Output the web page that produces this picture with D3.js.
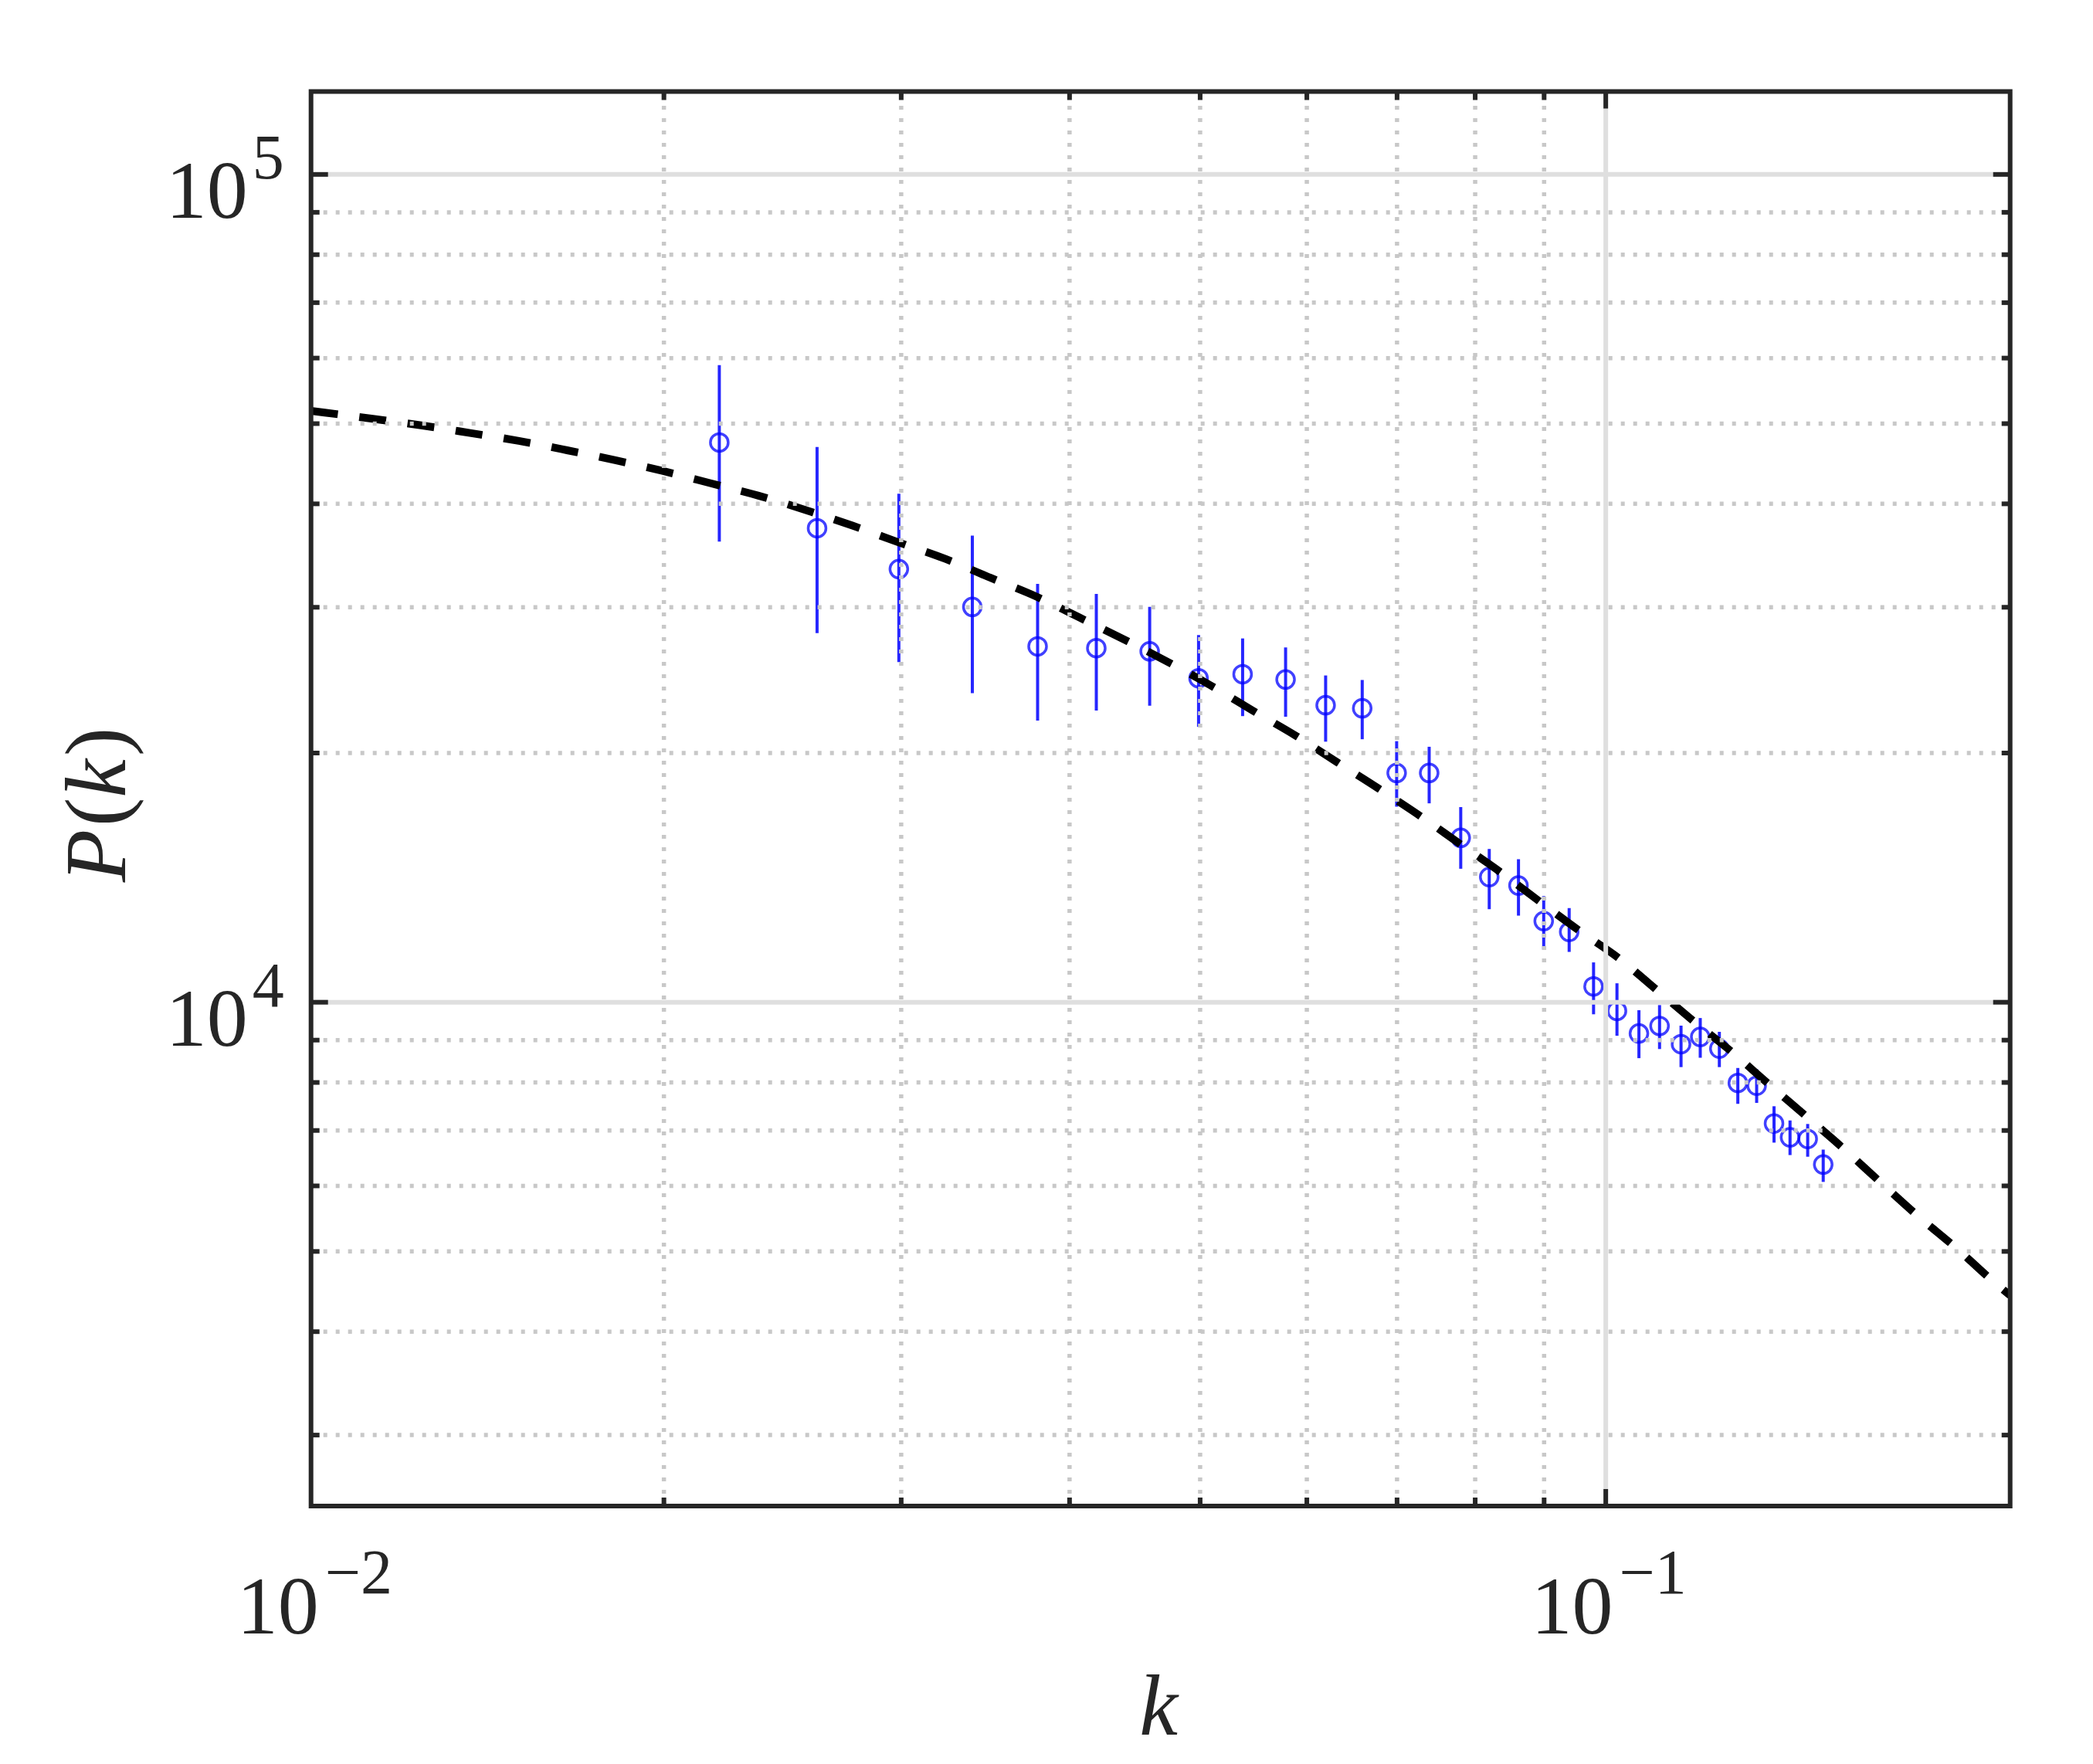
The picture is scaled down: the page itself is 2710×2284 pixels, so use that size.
<!DOCTYPE html>
<html>
<head>
<meta charset="utf-8">
<title>P(k)</title>
<script src="https://cdn.jsdelivr.net/npm/d3@7"></script>
<style>
  body { margin: 0; background: #fff; }
  svg { display: block; }
  .tick text { display: none; }
</style>
</head>
<body>
<script>
var kData = [0.0220, 0.0260, 0.0299, 0.0339, 0.0379, 0.0419, 0.0459, 0.0499, 0.0538, 0.0579,
             0.0620, 0.0660, 0.0700, 0.0740, 0.0781, 0.0820, 0.0862, 0.0900, 0.0940, 0.0980,
             0.1020, 0.1059, 0.1097, 0.1138, 0.1176, 0.1215, 0.1254, 0.1295, 0.1334, 0.1371,
             0.1413, 0.1451];
var pData = [47390, 37340, 33330, 30000, 26880, 26750, 26510, 24600, 24880, 24510,
             22820, 22630, 18900, 18900, 15780, 14150, 13820, 12520, 12150, 10440,
             9750, 9160, 9350, 8890, 9070, 8780, 7980, 7920, 7130, 6860,
             6830, 6360];
var pLow  = [35980, 27890, 25730, 23600, 21870, 22480, 22790, 21490, 22140, 22100,
             20620, 20760, 17210, 17370, 14480, 12940, 12710, 11570, 11490, 9660,
             9100, 8550, 8770, 8340, 8560, 8340, 7530, 7550, 6760, 6530,
             6500, 6060];
var pHigh = [58780, 46810, 41110, 36580, 31990, 31100, 30000, 27740, 27480, 26800,
             24790, 24480, 20650, 20330, 17190, 15300, 14870, 13420, 12980, 11160,
             10530, 9770, 9910, 9360, 9560, 9200, 8320, 8290, 7480, 7190,
             7120, 6630];

// model curve (dashed)
var modelK = [0.01095, 0.01121, 0.01217, 0.01322, 0.01437, 0.01562, 0.01696, 0.01842, 0.01999, 0.02168,
              0.02353, 0.02548, 0.02762, 0.02990, 0.03235, 0.03498, 0.03777, 0.04074, 0.04563, 0.05094,
              0.05482, 0.05893, 0.06324, 0.06802, 0.07288, 0.07807, 0.08366, 0.08954, 0.09597, 0.10239,
              0.10906, 0.11641, 0.12413, 0.13229, 0.14085, 0.14997, 0.15945, 0.16936, 0.18269, 0.19418,
              0.1997];
var modelP = [51750, 51500, 50620, 49710, 48660, 47600, 46380, 45110, 43770, 42310,
              40870, 39290, 37610, 35890, 34300, 32520, 30900, 29110, 26560, 24110,
              22450, 20960, 19470, 18060, 16770, 15500, 14330, 13190, 12140, 11280,
              10350, 9461, 8700, 7947, 7281, 6665, 6086, 5569, 5020, 4590,
              4420];

// axes
var xDomain = [0.01095, 0.1997];
var yDomain = [2460, 125800];
var xMajor = [0.1];
var xMinor = [0.02, 0.03, 0.04, 0.05, 0.06, 0.07, 0.08, 0.09];
var yMajor = [1e4, 1e5];
var yMinor = [3e3, 4e3, 5e3, 6e3, 7e3, 8e3, 9e3, 2e4, 3e4, 4e4, 5e4, 6e4, 7e4, 8e4, 9e4];
var xTickLabelAt = [0.01095, 0.1];
var xTickLabels = [["10", "\u22122"], ["10", "\u22121"]];
var yTickLabels = [["10", "4"], ["10", "5"]];

var margin = {top: 118.5, right: 107.3, bottom: 334, left: 402.7},
    width = 2710 - margin.left - margin.right,
    height = 2284 - margin.top - margin.bottom;

var axisColor = "#262626";

var svg = d3.select("body").append("svg")
    .attr("width", 2710)
    .attr("height", 2284);

var g = svg.append("g")
    .attr("transform", "translate(" + margin.left + "," + margin.top + ")");

var x = d3.scaleLog().domain(xDomain).range([0, width]);
var y = d3.scaleLog().domain(yDomain).range([height, 0]);

g.append("clipPath").attr("id", "clip")
  .append("rect").attr("width", width).attr("height", height);

var plot = g.append("g").attr("clip-path", "url(#clip)");

// error bars
var pts = kData.map(function(k, i) { return {k: k, p: pData[i], lo: pLow[i], hi: pHigh[i]}; });

plot.selectAll(".err")
    .data(pts)
    .enter().append("line")
    .attr("class", "err")
    .attr("x1", function(d) { return x(d.k); })
    .attr("x2", function(d) { return x(d.k); })
    .attr("y1", function(d) { return y(d.lo); })
    .attr("y2", function(d) { return y(d.hi); })
    .attr("stroke", "#0000ff")
    .attr("stroke-opacity", 0.85)
    .attr("stroke-width", 4);

plot.selectAll(".pt")
    .data(pts)
    .enter().append("circle")
    .attr("class", "pt")
    .attr("cx", function(d) { return x(d.k); })
    .attr("cy", function(d) { return y(d.p); })
    .attr("r", 11.5)
    .attr("fill", "none")
    .attr("stroke", "#0000ff")
    .attr("stroke-opacity", 0.75)
    .attr("stroke-width", 3.5);

// dashed model
var line = d3.line()
    .x(function(d) { return x(d[0]); })
    .y(function(d) { return y(d[1]); })
    .curve(d3.curveMonotoneX);

plot.append("path")
    .datum(modelK.map(function(k, i) { return [k, modelP[i]]; }))
    .attr("d", line)
    .attr("fill", "none")
    .attr("stroke", "#000")
    .attr("stroke-width", 10)
    .attr("stroke-dasharray", "35,28");

// grid (drawn on top of data, as in the figure)
function styleGrid(sel, dotted) {
  sel.select(".domain").remove();
  sel.selectAll(".tick line")
     .attr("stroke", dotted ? "#c8c8c8" : "#dfdfdf")
     .attr("stroke-width", dotted ? 5.5 : 6)
     .attr("stroke-dasharray", dotted ? "5,11" : null);
}

g.append("g")
    .attr("transform", "translate(0," + height + ")")
    .call(d3.axisBottom(x).tickValues(xMinor).tickSize(-height).tickFormat(""))
    .call(styleGrid, true);
g.append("g")
    .call(d3.axisLeft(y).tickValues(yMinor).tickSize(-width).tickFormat(""))
    .call(styleGrid, true);
g.append("g")
    .attr("transform", "translate(0," + height + ")")
    .call(d3.axisBottom(x).tickValues(xMajor).tickSize(-height).tickFormat(""))
    .call(styleGrid, false);
g.append("g")
    .call(d3.axisLeft(y).tickValues(yMajor).tickSize(-width).tickFormat(""))
    .call(styleGrid, false);

// inward ticks on all four sides
function styleTicks(sel) {
  sel.select(".domain").remove();
  sel.selectAll(".tick line")
     .attr("stroke", axisColor)
     .attr("stroke-width", 6);
}
[[xMajor, 22], [xMinor, 11]].forEach(function(t) {
  g.append("g").attr("transform", "translate(0," + height + ")")
    .call(d3.axisBottom(x).tickValues(t[0]).tickSize(-t[1]).tickFormat(""))
    .call(styleTicks);
  g.append("g")
    .call(d3.axisTop(x).tickValues(t[0]).tickSize(-t[1]).tickFormat(""))
    .call(styleTicks);
});
[[yMajor, 22], [yMinor, 11]].forEach(function(t) {
  g.append("g")
    .call(d3.axisLeft(y).tickValues(t[0]).tickSize(-t[1]).tickFormat(""))
    .call(styleTicks);
  g.append("g").attr("transform", "translate(" + width + ",0)")
    .call(d3.axisRight(y).tickValues(t[0]).tickSize(-t[1]).tickFormat(""))
    .call(styleTicks);
});

// box
g.append("rect")
    .attr("width", width)
    .attr("height", height)
    .attr("fill", "none")
    .attr("stroke", axisColor)
    .attr("stroke-width", 6);

// tick labels
var font = "'Liberation Serif', 'Times New Roman', serif";

xTickLabelAt.forEach(function(v, i) {
  var t = g.append("text")
      .attr("x", x(v) - 96)
      .attr("y", 1996.5)
      .attr("fill", axisColor)
      .attr("font-family", font)
      .attr("font-size", 106);
  t.append("tspan").text(xTickLabels[i][0]);
  t.append("tspan").attr("dx", 8).attr("dy", -52).attr("font-size", 82).text(xTickLabels[i][1]);
});

yMajor.forEach(function(v, i) {
  var t = g.append("text")
      .attr("x", -35)
      .attr("y", y(v) + 56.5)
      .attr("text-anchor", "end")
      .attr("fill", axisColor)
      .attr("font-family", font)
      .attr("font-size", 106);
  t.append("tspan").text(yTickLabels[i][0]);
  t.append("tspan").attr("dx", 6).attr("dy", -51).attr("font-size", 82).text(yTickLabels[i][1]);
});

// axis labels
var xl = svg.append("text")
    .attr("x", 1500)
    .attr("y", 2246)
    .attr("text-anchor", "middle")
    .attr("fill", axisColor)
    .attr("font-family", font)
    .attr("font-size", 112)
    .attr("font-style", "italic")
    .text("k");

var yl = svg.append("text")
    .attr("transform", "translate(162,1042) rotate(-90)")
    .attr("text-anchor", "middle")
    .attr("fill", axisColor)
    .attr("font-family", font)
    .attr("font-size", 112);
yl.append("tspan").attr("font-style", "italic").text("P");
yl.append("tspan").attr("dx", 4).text("(");
yl.append("tspan").attr("font-style", "italic").text("k");
yl.append("tspan").attr("dx", 4).text(")");
</script>
</body>
</html>
